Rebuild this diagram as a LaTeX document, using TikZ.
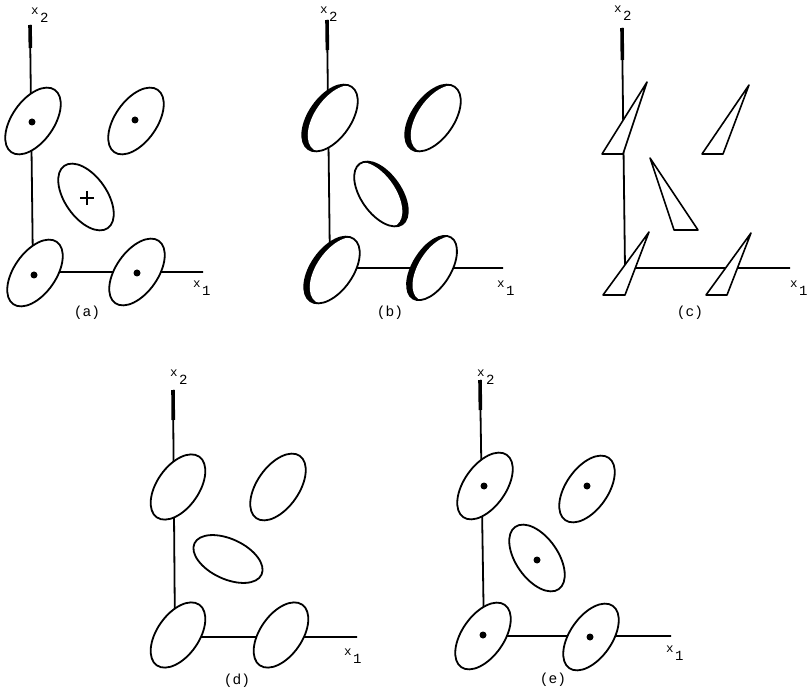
\documentclass[tikz,border=0pt]{standalone}
\usepackage{fontspec}
\setmonofont{Liberation Mono}
\newcommand\digfont{\fontsize{14}{14}\selectfont}
\tikzset{
  ax/.style={line width=1.8pt},
  axtick/.style={line width=3.6pt},
  ell/.style={draw, fill=white, line width=1.8pt},
  tri/.style={draw, fill=white, line width=1.6pt, line join=round},
  lab/.style={font=\ttfamily\fontsize{12.5}{12.5}\selectfont, inner sep=0pt},
  caplab/.style={font=\ttfamily\fontsize{14.5}{14.5}\selectfont, inner sep=0pt},
  blackdot/.style={fill=black}
}
\newcommand\myell[5]{\path[ell, rotate around={#3:(#1,#2)}] (#1,#2) ellipse [x radius=#4, y radius=#5];}
\newcommand\mydot[2]{\fill[blackdot] (#1,#2) circle [radius=3.5];}
\newcommand\mycres[7]{%
  \begin{scope}
    \clip[rotate around={#3:(#1,#2)}] (#1,#2) ellipse [x radius=#4, y radius=#5];
    \fill[black] ({#1-60},{#2-60}) rectangle ({#1+60},{#2+60});
    \fill[white, rotate around={#3:({#1+#6},{#2+#7})}] ({#1+#6},{#2+#7}) ellipse [x radius=#4, y radius=#5];
  \end{scope}
  \draw[line width=1.8pt, rotate around={#3:(#1,#2)}] (#1,#2) ellipse [x radius=#4, y radius=#5];}
\newcommand\axlab[3]{\node[lab, anchor=base west] at (#1,#2) {x\kern1.5pt\raisebox{-8pt}{\digfont #3}};}
\begin{document}
\begin{tikzpicture}[x=1pt, y=-1pt]
\useasboundingbox (0,0) rectangle (808,692);
\fill[white] (0,0) rectangle (808,692);

% ---------------- (a)
\coordinate (aT) at (30,25);
\coordinate (aO) at (33,272);
\coordinate (aR) at (203,272);
\draw[ax] (aT) -- (aO) -- (aR);
\draw[axtick] (aT) -- (30.4,48);
\draw[line width=2.8pt] (182,272) -- (aR);
\myell{33}{121}{55}{38}{21}
\myell{136}{121}{55}{38}{21}
\myell{86}{197}{-55}{38}{21}
\myell{35}{273}{55}{38}{21}
\myell{137}{272}{55}{38}{21}
\mydot{32}{122}
\mydot{135}{120}
\mydot{34}{275}
\mydot{137}{273}
\draw[line width=1.6pt] (80,198) -- (94,198) (87,191) -- (87,205);
\axlab{31}{15}{2}
\axlab{193}{288}{1}
\node[caplab] (capa) at (87,313) {(a)};

% ---------------- (b)
\coordinate (bT) at (327,20);
\coordinate (bO) at (330,268);
\coordinate (bR) at (503,268);
\draw[ax] (bT) -- (bO) -- (bR);
\draw[axtick] (bT) -- (327.4,50);
\draw[line width=2.8pt] (480,268) -- (bR);
\mycres{330}{118}{55}{38}{21}{5.5}{0.5}
\mycres{433}{118}{55}{38}{21}{5.5}{0.5}
\mycres{381}{194}{-55}{37}{20}{-5.5}{0.5}
\mycres{332}{270}{55}{38}{21}{5.5}{0.5}
\mycres{432}{268}{58}{36}{19}{5.5}{0.5}
\axlab{320}{14}{2}
\axlab{497}{288}{1}
\node[caplab] (capb) at (390,313) {(b)};

% ---------------- (c)
\coordinate (cT) at (622,28);
\coordinate (cO) at (625,268);
\coordinate (cR) at (790,268);
\draw[ax] (cT) -- (cO) -- (cR);
\draw[axtick] (cT) -- (622.4,60);
\draw[line width=2.8pt] (766,268) -- (cR);
\path[tri] (647,82) -- (602,154) -- (623,154) -- cycle;
\path[tri] (749,85) -- (702,154) -- (723,154) -- cycle;
\path[tri] (650,158) -- (674,230) -- (698,230) -- cycle;
\path[tri] (649,232) -- (603,295) -- (625,295) -- cycle;
\path[tri] (751,233) -- (706,295) -- (727,295) -- cycle;
\axlab{614}{13}{2}
\axlab{790}{288}{1}
\node[caplab] (capc) at (690,313) {(c)};

% ---------------- (d)
\coordinate (dT) at (173,390);
\coordinate (dO) at (175,637);
\coordinate (dR) at (357,637);
\draw[ax] (dT) -- (dO) -- (dR);
\draw[axtick] (dT) -- (173.3,420);
\draw[line width=2.8pt] (340,637) -- (dR);
\myell{178}{487}{55}{37}{21}
\myell{278}{487}{55}{38}{21}
\myell{228}{559}{-25}{37}{20}
\myell{178}{635}{55}{37}{21}
\myell{281}{635}{55}{37}{21}
\axlab{170}{376}{2}
\axlab{344}{655}{1}
\node[caplab] (capd) at (237,681) {(d)};

% ---------------- (e)
\coordinate (eT) at (480,380);
\coordinate (eO) at (484,636);
\coordinate (eR) at (671,636);
\draw[ax] (eT) -- (eO) -- (eR);
\draw[axtick] (eT) -- (480.4,410);
\draw[line width=2.8pt] (650,636) -- (eR);
\myell{485}{486}{55}{38}{21}
\myell{587}{489}{55}{38}{21}
\myell{537}{558}{-55}{38}{21}
\myell{483}{636}{55}{38}{21}
\myell{591}{637}{55}{38}{21}
\mydot{484}{486}
\mydot{587}{486}
\mydot{537}{560}
\mydot{483}{635}
\mydot{590}{637}
\axlab{477}{376}{2}
\axlab{666}{652}{1}
\node[caplab] (cape) at (553,680) {(e)};
\end{tikzpicture}
\end{document}
